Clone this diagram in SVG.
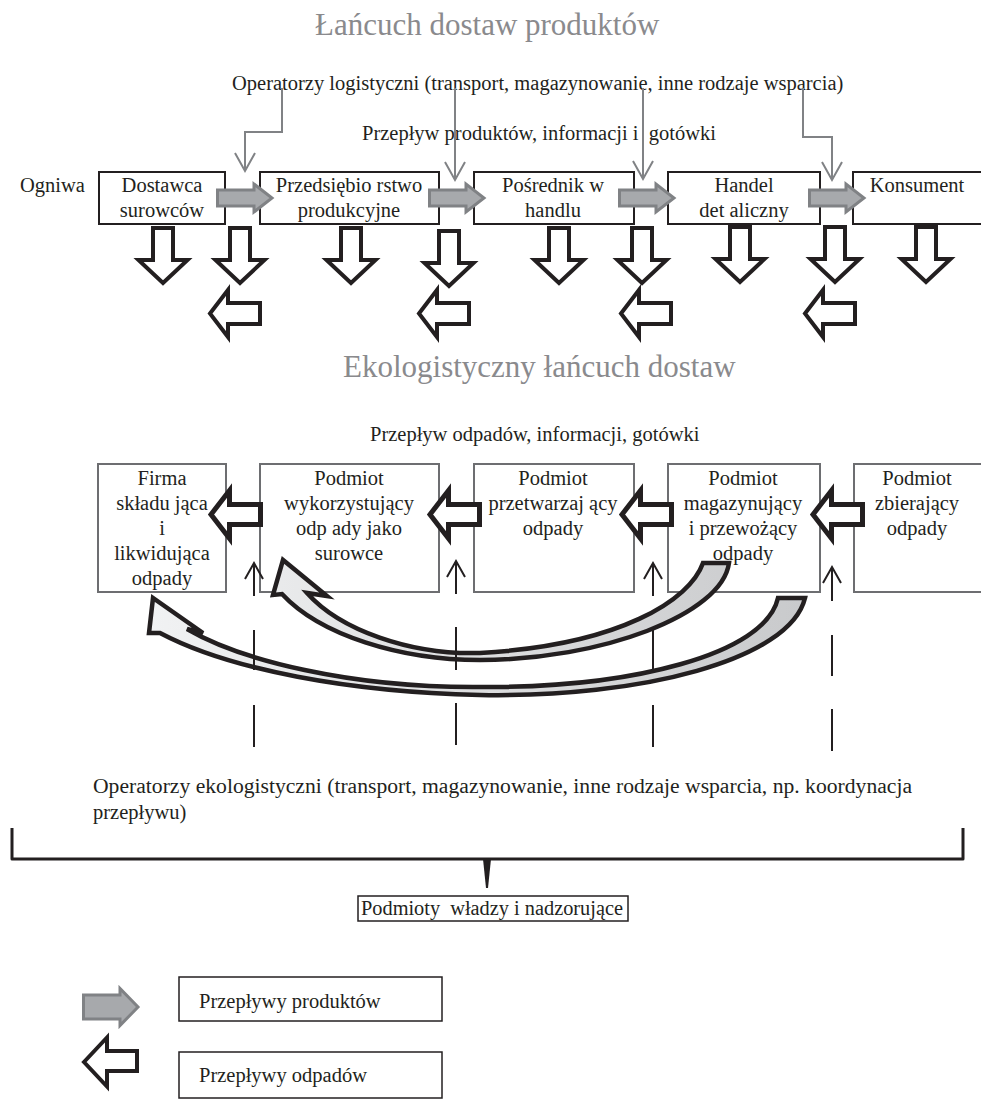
<svg xmlns="http://www.w3.org/2000/svg" width="981" height="1100" viewBox="0 0 981 1100">
<defs>
<style>
.t{font-family:"Liberation Serif","Times New Roman",serif;font-size:20.5px;fill:#231f20}
.m{text-anchor:middle}
.title{font-size:31px;fill:#8a8a8d}
.bx{fill:#fff;stroke:#231f20;stroke-width:2}
.bx2{fill:#fff;stroke:#6d6e71;stroke-width:2}
.ga{fill:#a7a9ac;stroke:#808285;stroke-width:3}
.wa{fill:#fff;stroke:#231f20;stroke-width:4;stroke-linejoin:miter}
.wb{fill:#fff;stroke:#231f20;stroke-width:5;stroke-linejoin:miter}
.gl{fill:none;stroke:#808285;stroke-width:2}
.up{fill:none;stroke:#231f20;stroke-width:2}
.cv{stroke:#231f20;stroke-width:4.5;stroke-linejoin:miter}
</style>
<path id="down" d="M-10,0 H10 V32 H24.5 L0,55 L-24.5,32 H-10 Z"/>
<path id="left1" d="M0,0 L18,-23.5 V-10.5 H50 V10.5 H18 V23.5 Z"/>
<path id="left2" d="M0,0 L18.5,-24 V-10 H49.5 V10 H18.5 V24 Z"/>
<path id="gray" d="M0,-8 H36.5 V-14 L54.5,0 L36.5,14 V8 H0 Z"/>
<linearGradient id="cg" gradientUnits="userSpaceOnUse" x1="150" y1="0" x2="800" y2="0">
<stop offset="0" stop-color="#f1f2f3"/>
<stop offset="1" stop-color="#c9cacc"/>
</linearGradient>
</defs>
<rect width="981" height="1100" fill="#fff"/>

<g id="titles">
<text class="t title" x="315" y="35">Łańcuch dostaw produktów</text>
<text class="t" x="232" y="90">Operatorzy logistyczni (transport, magazynowanie, inne rodzaje wsparcia)</text>
<text class="t" x="362" y="140" xml:space="preserve">Przepływ produktów, informacji i  gotówki</text>
<text class="t" x="20" y="192">Ogniwa</text>
<text class="t title" x="343" y="377">Ekologistyczny łańcuch dostaw</text>
<text class="t" x="370" y="441">Przepływ odpadów, informacji, gotówki</text>
</g>

<g id="node-dostawca"><rect class="bx" x="99" y="172" width="126" height="52"/>
<text class="t m" x="162" y="192">Dostawca</text><text class="t m" x="162" y="217">surowców</text></g>
<g id="node-przedsiebiorstwo"><rect class="bx" x="260" y="172" width="179" height="52"/>
<text class="t m" x="349" y="192">Przedsiębio rstwo</text><text class="t m" x="349" y="217">produkcyjne</text></g>
<g id="node-posrednik"><rect class="bx" x="474" y="172" width="160" height="52"/>
<text class="t m" x="553" y="192">Pośrednik w</text><text class="t m" x="553" y="217">handlu</text></g>
<g id="node-handel"><rect class="bx" x="668" y="172" width="152" height="52"/>
<text class="t m" x="744" y="192">Handel</text><text class="t m" x="744" y="217">det aliczny</text></g>
<g id="node-konsument"><rect class="bx" x="853" y="172" width="140" height="52"/>
<text class="t m" x="917" y="192">Konsument</text></g>

<g id="node-firma"><rect class="bx2" x="98" y="464" width="128" height="128"/>
<text class="t m" x="162" y="485">Firma</text><text class="t m" x="162" y="510">składu jąca</text><text class="t m" x="162" y="535">i</text><text class="t m" x="162" y="560">likwidująca</text><text class="t m" x="162" y="585">odpady</text></g>
<g id="node-wykorzystujacy"><rect class="bx2" x="260" y="464" width="179" height="128"/>
<text class="t m" x="349" y="485">Podmiot</text><text class="t m" x="349" y="510">wykorzystujący</text><text class="t m" x="349" y="535">odp ady jako</text><text class="t m" x="349" y="560">surowce</text></g>
<g id="node-przetwarzajacy"><rect class="bx2" x="474" y="464" width="160" height="128"/>
<text class="t m" x="553" y="485">Podmiot</text><text class="t m" x="553" y="510">przetwarzaj ący</text><text class="t m" x="553" y="535">odpady</text></g>
<g id="node-magazynujacy"><rect class="bx2" x="668" y="464" width="152" height="128"/>
<text class="t m" x="743" y="485">Podmiot</text><text class="t m" x="743" y="510">magazynujący</text><text class="t m" x="743" y="535">i przewożący</text><text class="t m" x="743" y="560">odpady</text></g>
<g id="node-zbierajacy"><rect class="bx2" x="854" y="464" width="140" height="128"/>
<text class="t m" x="917" y="485">Podmiot</text><text class="t m" x="917" y="510">zbierający</text><text class="t m" x="917" y="535">odpady</text></g>

<g id="connectors">
<g id="operator-lines">
<path class="gl" d="M282,88 V132 H245 V170 M235,153 L245,171 L255,153"/>
<path class="gl" d="M455,88 V180 M445,162 L455,180 L465,162"/>
<path class="gl" d="M643,88 V179 M633,161 L643,179 L653,161"/>
<path class="gl" d="M803,88 V137 H832 V180 M822,162 L832,180 L842,162"/>
</g>
<g id="product-flows">
<use href="#gray" class="ga" x="217.5" y="198"/>
<use href="#gray" class="ga" x="429.5" y="198"/>
<use href="#gray" class="ga" x="619.5" y="198"/>
<use href="#gray" class="ga" x="809.5" y="198"/>
</g>
<g id="down-arrows">
<use href="#down" class="wa" x="163" y="228"/>
<use href="#down" class="wa" x="240" y="228"/>
<use href="#down" class="wa" x="351" y="228"/>
<use href="#down" class="wa" x="449" y="231"/>
<use href="#down" class="wa" x="559" y="228"/>
<use href="#down" class="wa" x="642" y="228"/>
<use href="#down" class="wa" x="740" y="227"/>
<use href="#down" class="wa" x="835" y="227"/>
<use href="#down" class="wa" x="926" y="227"/>
</g>
<g id="return-arrows">
<use href="#left1" class="wa" x="210" y="313.5"/>
<use href="#left1" class="wa" x="419" y="313.5"/>
<use href="#left1" class="wa" x="621" y="313.5"/>
<use href="#left1" class="wa" x="805" y="313.5"/>
</g>
<g id="waste-flows">
<use href="#left2" class="wb" x="211" y="514.5"/>
<use href="#left2" class="wb" x="430" y="514.5"/>
<use href="#left2" class="wb" x="622" y="514.5"/>
<use href="#left2" class="wb" x="813" y="514.5"/>
</g>
<g id="curved-flows">
<path class="cv" fill="url(#cg)" d="M282,594 C320,635 400,660 480,660 C600,660 722,615 729,563 L703,563 C690,600 620,645 480,653 C410,655 340,630 307,593 L327,596 L283,560 L273,595 Z"/>
<path class="cv" fill="url(#cg)" d="M160,633 C230,670 350,692 480,695 C640,698 790,660 805,598 L778,598 C765,655 630,688 480,687 C350,688 240,660 187,629 L203,633 L153,598 L149,633 Z"/>
</g>
<g id="eco-operators">
<path class="up" d="M254,563 V596 M245,579 L254,563 L263,579 M254,630 V670 M254,705 V747"/>
<path class="up" d="M456,561 V594 M447,577 L456,561 L465,577 M456,627 V670 M456,703 V745"/>
<path class="up" d="M653,563 V596 M644,579 L653,563 L662,579 M653,630 V672 M653,705 V747"/>
<path class="up" d="M832,567 V601 M823,583 L832,567 L841,583 M832,635 V676 M832,709 V751"/>
</g>
<g id="bracket">
<path d="M12,828 V859 H963 V828" fill="none" stroke="#231f20" stroke-width="3" stroke-linejoin="round"/>
<path d="M483,859 L491,859 L488,888 L486,888 Z" fill="#231f20"/>
</g>
</g>

<g id="eco-text">
<text class="t" x="93" y="793" font-size="21.5" textLength="819" lengthAdjust="spacingAndGlyphs">Operatorzy ekologistyczni (transport, magazynowanie, inne rodzaje wsparcia, np. koordynacja</text>
<text class="t" x="93" y="819" font-size="21.5">przepływu)</text>
</g>

<g id="node-wladze">
<rect x="358" y="896" width="270" height="25" fill="#fff" stroke="#231f20" stroke-width="1.5"/>
<text class="t" x="361" y="915" font-size="21" textLength="262" lengthAdjust="spacingAndGlyphs" xml:space="preserve">Podmioty  władzy i nadzorujące</text>
</g>

<g id="legend">
<path class="ga" d="M83.5,995 H120 V988.5 L138,1007 L120,1025.5 V1019 H83.5 Z"/>
<rect x="179" y="977" width="263" height="44" fill="#fff" stroke="#231f20" stroke-width="1.5"/>
<text class="t" x="199" y="1008" font-size="22.5">Przepływy produktów</text>
<path class="wa" d="M84,1062 L107,1037.5 V1051 H137 V1071 H107 V1086.5 Z" stroke-width="3.5"/>
<rect x="179" y="1052" width="263" height="46" fill="#fff" stroke="#231f20" stroke-width="1.5"/>
<text class="t" x="199" y="1082" font-size="22.5">Przepływy odpadów</text>
</g>
</svg>
